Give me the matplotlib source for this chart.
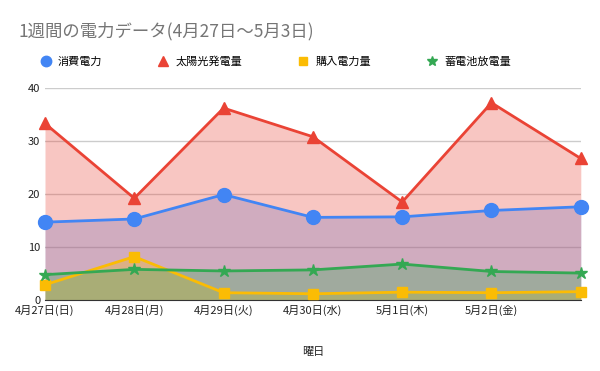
import numpy as np
import matplotlib
matplotlib.use('Agg')
import matplotlib.pyplot as plt

plt.rcParams['font.family'] = ['Noto Sans CJK JP', 'DejaVu Sans']

days = ['4月27日(日)', '4月28日(月)', '4月29日(火)', '4月30日(水)',
        '5月1日(木)', '5月2日(金)', '5月3日(土)']
consumption = [14.7, 15.3, 19.9, 15.6, 15.7, 16.9, 17.6]
solar = [33.3, 19.2, 36.2, 30.8, 18.5, 37.2, 26.7]
purchased = [2.9, 8.2, 1.4, 1.2, 1.5, 1.4, 1.6]
battery = [4.8, 5.8, 5.5, 5.7, 6.8, 5.4, 5.1]

# name, values, colour, marker, line marker size, legend marker size
series = [
    ('消費電力', consumption, '#4285F4', 'o', 10, 7.5),
    ('太陽光発電量', solar, '#EA4335', '^', 8, 6.5),
    ('購入電力量', purchased, '#FBBC04', 's', 7, 5.5),
    ('蓄電池放電量', battery, '#34A853', '*', 9, 7.5),
]

fig = plt.figure(figsize=(6, 3.71), dpi=100)
ax = fig.add_axes([0.075, 0.191, 0.893, 0.572])
x = np.arange(len(days))

for name, vals, color, marker, ms, _ in series:
    ax.fill_between(x, 0, vals, color=color, alpha=0.3, linewidth=0)
    ax.plot(x, vals, color=color, lw=2, marker=marker, ms=ms,
            label=name, clip_on=False, zorder=3)

ax.set_xlim(0, len(days) - 1)
ax.set_ylim(0, 40)
ax.set_yticks([0, 10, 20, 30, 40])
ax.grid(axis='y', color='#cccccc', lw=1)
ax.set_axisbelow(True)
for s in ['top', 'right', 'left']:
    ax.spines[s].set_visible(False)
ax.spines['bottom'].set_color('#333333')
ax.tick_params(length=0, labelsize=8, colors='#222222')
# the last day's label is dropped in the original chart
ax.set_xticks(x[:-1])
ax.set_xticklabels(days[:-1])
ax.set_xlabel('曜日', fontsize=8, color='#222222', labelpad=22)

fig.text(0.03, 0.915, '1週間の電力データ(4月27日～5月3日)', fontsize=12.5,
         color='#757575', va='center')

fig.legend(handles=[plt.Line2D([], [], color=c, marker=m, ls='none', ms=lms)
                    for _, _, c, m, _, lms in series],
           labels=[s[0] for s in series], ncol=4, frameon=False,
           loc='center left', bbox_to_anchor=(0.05, 0.835), fontsize=8,
           handletextpad=0.6, columnspacing=5.0, handlelength=1)

fig.savefig('out.png', dpi=100)
